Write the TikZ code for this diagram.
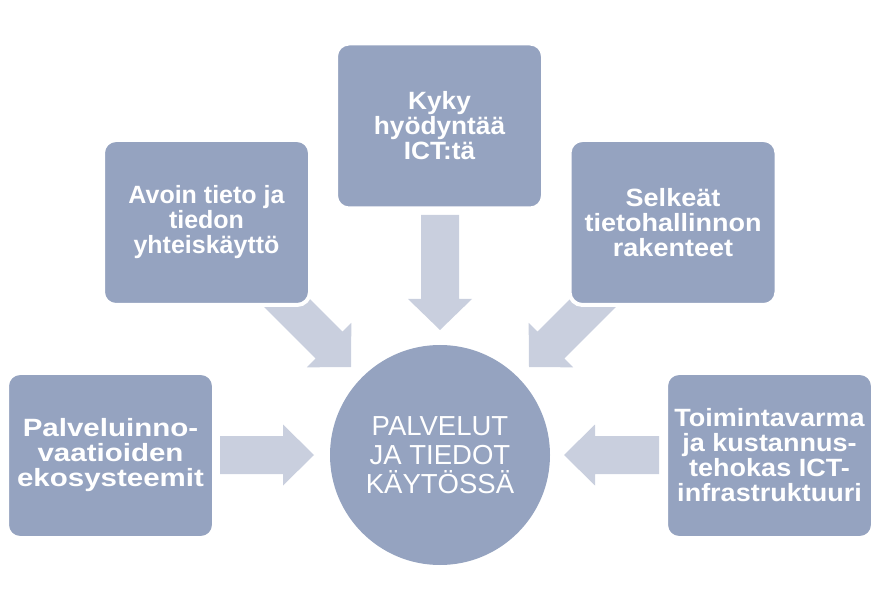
\documentclass[tikz,border=0pt]{standalone}
\usepackage{fontspec}
\setmainfont{Liberation Sans}
\newfontfamily\stA[FakeStretch=1.05]{Liberation Sans}
\newfontfamily\stB[FakeStretch=1.00]{Liberation Sans}
\newfontfamily\stC[FakeStretch=1.08]{Liberation Sans}
\newfontfamily\stD[FakeStretch=1.18]{Liberation Sans}
\newfontfamily\stE[FakeStretch=1.08]{Liberation Sans}
\definecolor{boxblue}{RGB}{149,163,192}
\definecolor{arrowblue}{RGB}{201,207,222}
\tikzset{
  topic/.style={rectangle, rounded corners=13pt, fill=boxblue, draw=white, line width=4pt,
    minimum width=207pt, minimum height=165pt, text=white, align=center,
    font=\bfseries\fontsize{25}{25}\selectfont, inner sep=0pt},
  hub/.style={circle, fill=boxblue, minimum size=220pt, text=white, align=center,
    font=\fontsize{27.5}{29}\selectfont, inner sep=0pt},
  blockarrow/.style={fill=arrowblue}
}
\newcommand{\barrow}[4]{% tip, angle, length, headhalf
  \begin{scope}[shift={(#1)}, rotate=#2]
    \fill[blockarrow] (0,0) -- (-31,-#4) -- (-31,-19) -- (-#3,-19) -- (-#3,19) -- (-31,19) -- (-31,#4) -- cycle;
  \end{scope}}
\begin{document}
\begin{tikzpicture}[x=1pt,y=-1pt]
\useasboundingbox (0,0) rectangle (886,609);
% arrow tips
\coordinate (tL) at (314,455);
\coordinate (tR) at (564,455);
\coordinate (tT) at (440,330);
\coordinate (tUL) at (351,367);
\coordinate (tUR) at (529,367);
% arrows
\barrow{tL}{0}{94}{30.5}
\barrow{tR}{180}{95}{30.5}
\barrow{tT}{-90}{115}{32}
\barrow{tUL}{-45}{105}{31.5}
\barrow{tUR}{-135}{105}{31.5}
% centre
\node[hub] (hub) at (440,455) {PALVELUT\\JA TIEDOT\\KÄYTÖSSÄ};
% boxes
\node[topic] (kyky) at (439.5,126) {\stA\bfseries Kyky\\\stA\bfseries hyödyntää\\\stA\bfseries ICT:tä};
\node[topic] (avoin) at (206.5,222.5) {\stB\bfseries Avoin tieto ja\\\stB\bfseries tiedon\\\stB\bfseries yhteiskäyttö};
\node[topic] (selk) at (673,222.5) {\stC\bfseries Selkeät\\\stC\bfseries tietohallinnon\\\stC\bfseries rakenteet};
\node[topic] (palv) at (110.5,455.5) {\stD\bfseries Palveluinno-\\\stD\bfseries vaatioiden\\\stD\bfseries ekosysteemit};
\node[topic] (toim) at (769.5,455.5) {\stE\bfseries Toimintavarma\\\stE\bfseries ja kustannus-\\\stE\bfseries tehokas ICT-\\\stE\bfseries infrastruktuuri};
\end{tikzpicture}
\end{document}
